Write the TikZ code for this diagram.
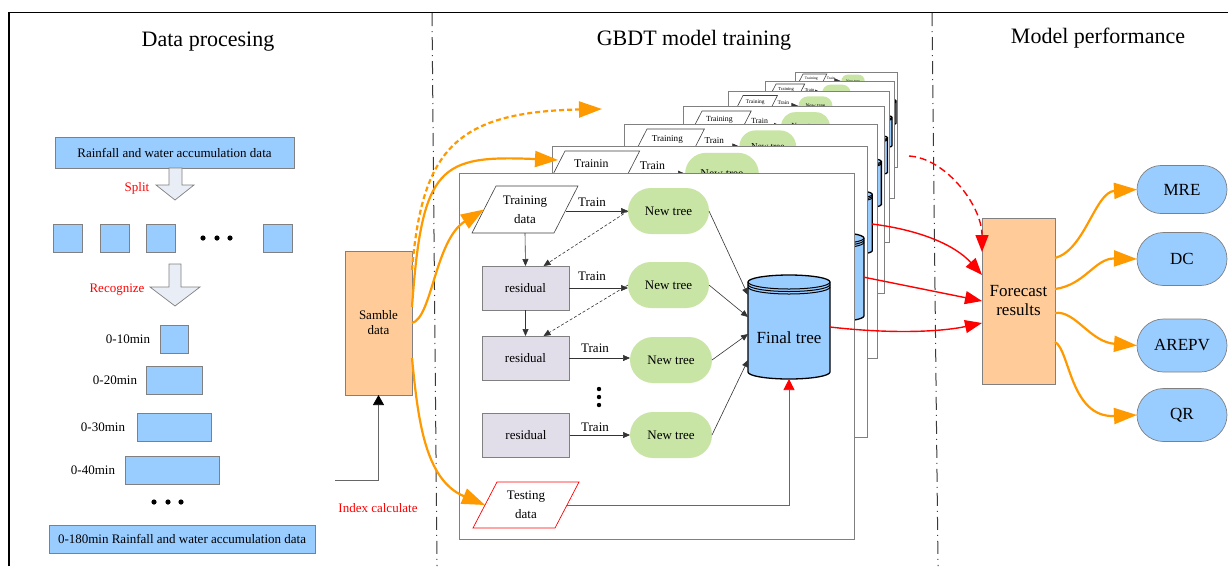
\documentclass[tikz,border=0pt]{standalone}
\usepackage{fontspec}
\setmainfont{Liberation Serif}
\usetikzlibrary{arrows.meta,shapes.misc}

\definecolor{skyfill}{HTML}{99CCFF}
\definecolor{peach}{HTML}{FFCC99}
\definecolor{leaf}{HTML}{C9E5A5}
\definecolor{lilac}{HTML}{E1DDE9}
\definecolor{paleblock}{HTML}{E9EDF5}
\definecolor{amber}{HTML}{FF9900}
\definecolor{edgegray}{HTML}{808080}
\definecolor{sepgray}{HTML}{3A3A3A}

\newcommand\fs[2]{\fontsize{#1}{#2}\selectfont}

\tikzset{
  every node/.style={inner sep=0pt, outer sep=0pt},
  txt/.style={font=\fs{13}{15}, align=center},
  paratxt/.style={font=\fs{13}{19}, align=center},
  bigtxt/.style={font=\fs{17}{19}, align=center},
  title/.style={font=\fs{22}{24}},
  redlabel/.style={txt, text=red},
  bluebox/.style={txt, draw=edgegray, fill=skyfill, line width=0.7pt},
  lilacbox/.style={txt, draw=edgegray, fill=lilac, line width=0.7pt,
                   minimum width=87pt, minimum height=44pt},
  treenode/.style={txt, rounded rectangle, fill=leaf,
                   minimum width=81pt, minimum height=46pt},
  peachbox/.style={draw=edgegray, fill=peach, line width=0.7pt, align=center},
  metric/.style={bigtxt, rounded rectangle, draw=edgegray, fill=skyfill,
                 line width=0.7pt, minimum width=90pt},
  frm/.style={draw=edgegray, fill=white, line width=0.8pt},
  paraedge/.style={draw=black!75, fill=white, line width=0.6pt},
  blockarrow/.style={draw=edgegray, fill=paleblock, line width=0.7pt},
  drumbody/.style={draw=black, fill=skyfill, line width=1.3pt},
  drumline/.style={draw=black, line width=1pt},
  arr/.style={black!80, line width=0.6pt, -{Triangle[length=7pt,width=6pt]}},
  dasharr/.style={arr, dash pattern=on 3pt off 2pt},
  idxarr/.style={black!60, line width=0.7pt, -{Triangle[length=10pt,width=11pt,color=black]}},
  orangearr/.style={amber, line width=2.2pt, -{Triangle[length=23pt,width=16pt]}},
  redarr/.style={red, line width=1.4pt, -{Triangle[length=17pt,width=13pt]}},
  thinred/.style={red!85, line width=0.7pt, -{Triangle[length=11pt,width=11pt,color=red]}},
  sep/.style={sepgray, line width=1pt, dash pattern=on 13pt off 5pt on 1pt off 5pt},
  dotmark/.style={fill=black},
}

% drum-shaped store, 82 wide and 104 high in local units
\newcommand\drum{%
  \path[drumbody] (0,7) -- (0,97)
     arc[start angle=180,end angle=360,x radius=41pt,y radius=7pt]
     -- (82,7) arc[start angle=0,end angle=180,x radius=41pt,y radius=7pt] -- cycle;
  \draw[drumline] (0,7) arc[start angle=180,end angle=360,x radius=41pt,y radius=7pt];
  \draw[drumline] (0,9.5) arc[start angle=180,end angle=360,x radius=41pt,y radius=7pt];
  \draw[drumline] (0,12) arc[start angle=180,end angle=360,x radius=41pt,y radius=7pt];
}

% a sheet of the ensemble lying behind the front one
\newcommand\sheet[7]{%
  \draw[frm] (#1,#2) rectangle (#3,#4);
  \clip (#1,#2) rectangle (#3,#4);
  \begin{scope}[shift={(#5,#6)}, scale=#7]\drum\end{scope}}

% the upper strip of a sheet: training data, train step, new tree
\newcommand\minisheet[5]{%
  \begin{scope}[shift={(#2,#3)}, scale=#4, transform shape]
    \draw[paraedge] (0,0) -- (82,0) -- (58,47) -- (-24,47) -- cycle;
    \node[paratxt, minimum width=82pt, minimum height=47pt] (p#1) at (29,23.5) {#5\\data};
    \node[treenode] (n#1) at (172.5,25) {New tree};
    \node[txt] (t#1) at (96,16) {Train};
    \draw[arr] (p#1.east |- n#1.west) -- (n#1.west);
  \end{scope}}

\begin{document}
\begin{tikzpicture}[x=1pt,y=-1pt]
\useasboundingbox (0,0) rectangle (1228,566);

% outer border and column separators
\draw[line width=1.6pt] (9,566) -- (9,12.5) -- (1228,12.5);
\draw[sep] (432,13) -- (437,566);
\draw[sep] (932,13) -- (938,566);

% column titles
\node[title] (tdp) at (208,42) {Data procesing};
\node[title] (tgb) at (694,40) {GBDT model training};
\node[title] (tmp) at (1098,38) {Model performance};

% ---------------- data processing ----------------
\node[bluebox, minimum width=239pt, minimum height=31pt] (raw) at (174.5,152.5)
  {Rainfall and water accumulation data};
\draw[blockarrow] (169,168) -- (169,185) -- (156,185) -- (175,200) -- (194,185)
  -- (182,185) -- (182,168) -- cycle;
\node[redlabel] (split) at (137,188) {Split};

\node[bluebox, minimum width=29pt, minimum height=28pt] (sq1) at (67.5,238) {};
\node[bluebox, minimum width=29pt, minimum height=28pt] (sq2) at (114.5,238) {};
\node[bluebox, minimum width=29pt, minimum height=28pt] (sq3) at (161,238) {};
\node[bluebox, minimum width=29pt, minimum height=28pt] (sq4) at (277.5,238) {};
\fill[dotmark] (203,238) circle (2.6pt) (217,238) circle (2.6pt) (230,238) circle (2.6pt);

\draw[blockarrow] (169,264) -- (169,287) -- (150,287) -- (175,306) -- (200,287)
  -- (181,287) -- (181,264) -- cycle;
\node[redlabel] (recog) at (117,290) {Recognize};

\node[bluebox, minimum width=28pt, minimum height=28pt] (b10) at (174,339) {};
\node[bluebox, minimum width=56pt, minimum height=28pt] (b20) at (174,380) {};
\node[bluebox, minimum width=74pt, minimum height=28pt] (b30) at (174,427) {};
\node[bluebox, minimum width=94pt, minimum height=28pt] (b40) at (172,470) {};
\node[txt, anchor=east] (l10) at ([xshift=-10pt]b10.west) {0-10min};
\node[txt, anchor=east] (l20) at ([xshift=-9pt]b20.west) {0-20min};
\node[txt, anchor=east] (l30) at ([xshift=-12pt]b30.west) {0-30min};
\node[txt, anchor=east] (l40) at ([xshift=-10pt]b40.west) {0-40min};
\fill[dotmark] (154,502) circle (2.6pt) (168,502) circle (2.6pt) (181,502) circle (2.6pt);
\node[bluebox, minimum width=266pt, minimum height=28pt] (b180) at (182,539)
  {0-180min Rainfall and water accumulation data};

% sample data and index calculation
\node[peachbox, txt, minimum width=67pt, minimum height=144pt] (sd) at (378.5,323) {Samble\\data};
\coordinate (icin) at (335,480);
\draw[idxarr] (icin) -| (sd.south);
\node[redlabel] (idx) at (378,508) {Index calculate};

% ---------------- GBDT ensemble ----------------
\begin{scope}\sheet{795}{72}{897}{167}{875.5}{99}{0.25}\minisheet{7}{803}{74}{0.29}{Training}\end{scope}
\begin{scope}\sheet{765}{81}{894}{198}{866}{115}{0.317}\minisheet{6}{776}{84}{0.35}{Training}\end{scope}
\begin{scope}\sheet{728}{91}{889}{242}{856}{135}{0.385}\minisheet{5}{743}{95.5}{0.42}{Training}\end{scope}
\begin{scope}\sheet{683}{106}{884}{293}{842}{158}{0.48}\minisheet{4}{702}{111}{0.6}{Training}\end{scope}
\begin{scope}\sheet{624}{124}{877}{358}{821}{190}{0.625}\minisheet{3}{647}{129}{0.7}{Training}\end{scope}
\begin{scope}\sheet{552}{146}{867}{437}{793}{232}{0.865}\minisheet{2}{565}{151}{0.91}{Trainin}\end{scope}
\coordinate (c3) at (872,224);
\coordinate (c2) at (863,277);

% front sheet
\draw[frm] (459,173) rectangle (854,539);

\draw[paraedge] (496,186) -- (578,186) -- (554,233) -- (472,233) -- cycle;
\node[paratxt, minimum width=82pt, minimum height=47pt] (td) at (525,209.5) {Training\\data};

\node[lilacbox] (r1) at (525.5,288) {residual};
\node[lilacbox] (r2) at (525.5,358) {residual};
\node[lilacbox] (r3) at (526,435) {residual};

\node[treenode] (n1) at (668.5,211) {New tree};
\node[treenode] (n2) at (668.5,285) {New tree};
\node[treenode, minimum width=82pt] (n3) at (671,360) {New tree};
\node[treenode, minimum width=82pt] (n4) at (671,435) {New tree};

\node[txt] (tr1) at (592,202) {Train};
\node[txt] (tr2) at (592,276) {Train};
\node[txt] (tr3) at (595,348) {Train};
\node[txt] (tr4) at (595,427) {Train};

\fill[dotmark] (599,389) circle (2.2pt) (599,397) circle (2.2pt) (599,405) circle (2.2pt);

\begin{scope}[shift={(748,275)}]\drum\end{scope}
\node[bigtxt, minimum width=82pt, minimum height=82pt] (ft) at (789,338) {Final tree};

\draw[draw=red, fill=white, line width=0.7pt] (497,482) -- (579,482) -- (555,528) -- (473,528) -- cycle;
\node[paratxt, minimum width=82pt, minimum height=46pt] (tsd) at (526,505) {Testing\\data};

\draw[arr] (td.east |- n1.west) -- (n1.west);
\draw[arr] (r1.east) -- (r1.east -| n2.west);
\draw[arr] (r2.east) -- (r2.east -| n3.west);
\draw[arr] (r3.east) -- (r3.east -| n4.west);
\draw[arr] (td.south) -- (r1.north);
\draw[arr] (r1.south) -- (r2.north);
\draw[dasharr] (n1.west) -- ([xshift=18pt]r1.north);
\draw[dasharr] (n2.west) -- ([xshift=18pt]r2.north);
\draw[arr] (n1.east) -- ([yshift=43pt]ft.west);
\draw[arr] (n2.east) -- ([yshift=21pt]ft.west);
\draw[arr] (n3.east) -- ([yshift=4pt]ft.west);
\draw[arr] (n4.east) -- ([yshift=-22pt]ft.west);
\draw[thinred] (tsd.east) -| (ft.south);

% sample data feeding the sheets
\coordinate (dotend) at (602,109);
\coordinate (s2end) at (558,160);
\draw[orangearr, dash pattern=on 5pt off 3pt] ([yshift=53pt]sd.east)
  .. controls (422,150) and (455,112) .. (dotend);
\draw[orangearr] ([yshift=16pt]sd.east) .. controls (422,165) and (440,155) .. (s2end);
\draw[orangearr] (sd.east) .. controls (432,318) and (435,240) .. (td.west);
\draw[orangearr] ([yshift=-35pt]sd.east) .. controls (418,420) and (425,480) .. (tsd.west);

% ---------------- model performance ----------------
\node[peachbox, bigtxt, minimum width=73pt, minimum height=166pt] (fc) at (1018.5,301) {Forecast\\results};

\node[metric, minimum height=48pt] (mre) at (1182,189.5) {MRE};
\node[metric, minimum height=53pt] (dc) at (1182,259) {DC};
\node[metric, minimum height=53pt] (arepv) at (1182,345.5) {AREPV};
\node[metric, minimum height=53pt] (qr) at (1182,415) {QR};

\coordinate (rdstart) at (909,156);
\draw[redarr, dash pattern=on 7pt off 4pt] (rdstart) .. controls (945,158) and (982,205) .. ([yshift=49pt]fc.west);
\draw[redarr] (c3) .. controls (920,230) and (955,245) .. ([yshift=26pt]fc.west);
\draw[redarr] (c2) -- (fc.west);
\draw[redarr] ([yshift=11pt]ft.east) .. controls (890,334) and (940,332) .. ([yshift=-22pt]fc.west);

\draw[orangearr] ([yshift=43pt]fc.east) .. controls (1085,250) and (1095,192) .. (mre.west);
\draw[orangearr] ([yshift=12pt]fc.east) .. controls (1085,285) and (1095,258) .. (dc.west);
\draw[orangearr] ([yshift=-12pt]fc.east) .. controls (1075,310) and (1090,342) .. (arepv.west);
\draw[orangearr] ([yshift=-41pt]fc.east) .. controls (1070,350) and (1070,418) .. (qr.west);

\end{tikzpicture}
\end{document}
